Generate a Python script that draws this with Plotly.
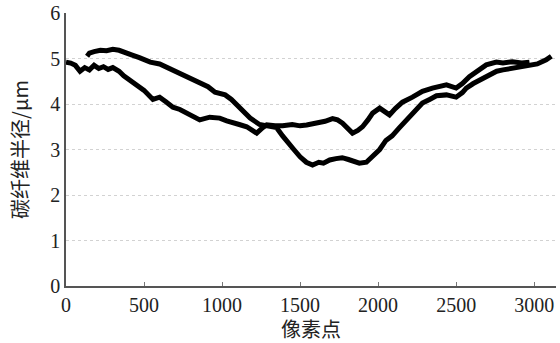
import plotly.graph_objects as go

# Series B: starts at x=0, flatter bottom with dip near 1840
xb = [0, 30, 60, 90, 120, 150, 180, 210, 240, 270, 300, 340, 370, 430, 500, 557, 600, 640, 685, 730,
      774, 820, 857, 921, 985, 1030, 1068, 1110, 1158, 1222, 1260, 1286, 1340, 1388, 1450, 1500, 1542,
      1580, 1625, 1660, 1708, 1740, 1772, 1810, 1836, 1870, 1900, 1935, 1965, 2010, 2040, 2073, 2110,
      2156, 2220, 2284, 2348, 2400, 2438, 2500, 2540, 2585, 2640, 2693, 2758, 2800, 2860, 2920, 2970]
yb = [4.92, 4.9, 4.85, 4.72, 4.8, 4.75, 4.85, 4.78, 4.82, 4.76, 4.8, 4.72, 4.62, 4.48, 4.3, 4.1, 4.15,
      4.05, 3.93, 3.88, 3.8, 3.72, 3.65, 3.71, 3.69, 3.63, 3.58, 3.55, 3.5, 3.36, 3.48, 3.54, 3.52, 3.52,
      3.55, 3.52, 3.54, 3.56, 3.58, 3.62, 3.68, 3.65, 3.58, 3.45, 3.36, 3.42, 3.5, 3.65, 3.8, 3.91, 3.85,
      3.76, 3.9, 4.04, 4.15, 4.28, 4.35, 4.4, 4.42, 4.35, 4.45, 4.6, 4.75, 4.86, 4.92, 4.9, 4.93, 4.9, 4.92]

# Series A: starts near x=135 at top, deep U with minimum ~2.65
xa = [135, 150, 180, 220, 260, 300, 340, 380, 420, 470, 540, 600, 650, 700, 730, 780, 825, 860, 910,
      955, 1020, 1060, 1110, 1150, 1180, 1240, 1305, 1350, 1388, 1420, 1460, 1500, 1540, 1580, 1620,
      1650, 1690, 1730, 1770, 1810, 1850, 1880, 1925, 1960, 2010, 2050, 2090, 2137, 2200, 2250, 2284,
      2330, 2374, 2438, 2500, 2540, 2565, 2610, 2650, 2713, 2760, 2800, 2860, 2920, 2970, 3020, 3077, 3110]
ya = [5.05, 5.12, 5.15, 5.18, 5.17, 5.2, 5.18, 5.14, 5.08, 5.02, 4.92, 4.88, 4.8, 4.72, 4.68, 4.6, 4.5,
      4.47, 4.38, 4.26, 4.2, 4.1, 3.92, 3.8, 3.69, 3.55, 3.5, 3.48, 3.3, 3.15, 3.0, 2.84, 2.72, 2.66,
      2.72, 2.7, 2.77, 2.8, 2.82, 2.78, 2.72, 2.7, 2.72, 2.85, 3.0, 3.2, 3.3, 3.48, 3.72, 3.9, 4.02, 4.1,
      4.18, 4.2, 4.15, 4.25, 4.35, 4.45, 4.53, 4.65, 4.72, 4.75, 4.78, 4.82, 4.85, 4.88, 4.97, 5.05]

x_ticks = [0, 500, 1000, 1500, 2000, 2500, 3000]
y_ticks = [0, 1, 2, 3, 4, 5, 6]

serif = "Liberation Serif, DejaVu Serif, serif"
cjk = "Noto Sans CJK SC"

fig = go.Figure()
fig.add_trace(go.Scatter(x=xb, y=yb, mode="lines", line=dict(color="black", width=5), showlegend=False))
fig.add_trace(go.Scatter(x=xa, y=ya, mode="lines", line=dict(color="black", width=5), showlegend=False))

fig.update_layout(
    width=560, height=343,
    margin=dict(l=66, r=4, t=13, b=57),
    plot_bgcolor="white", paper_bgcolor="white",
    font=dict(family=serif, size=20, color="#222"),
    xaxis=dict(range=[0, 3140], tickvals=x_ticks, ticktext=[str(v) for v in x_ticks],
               automargin=False,
               showgrid=False, zeroline=False, showline=True, linecolor="#555", linewidth=1.5,
               ticks="inside", ticklen=4, tickcolor="#777",
               title=dict(text="像素点", font=dict(family=cjk, size=20, color="#222"), standoff=6)),
    yaxis=dict(range=[0, 6.0], tickvals=y_ticks, ticktext=[str(v) for v in y_ticks],
               automargin=False,
               showgrid=True, gridcolor="#d2d2d2", griddash="dot", gridwidth=1,
               zeroline=False, showline=True, linecolor="#555", linewidth=1.5, ticks="",
               title=dict(text="碳纤维半径/μm", font=dict(family=cjk, size=20, color="#222"), standoff=16)),
)

fig.write_html("out.html", config={"displayModeBar": False},
               post_script="document.body.style.margin='0';document.body.style.padding='0';")
